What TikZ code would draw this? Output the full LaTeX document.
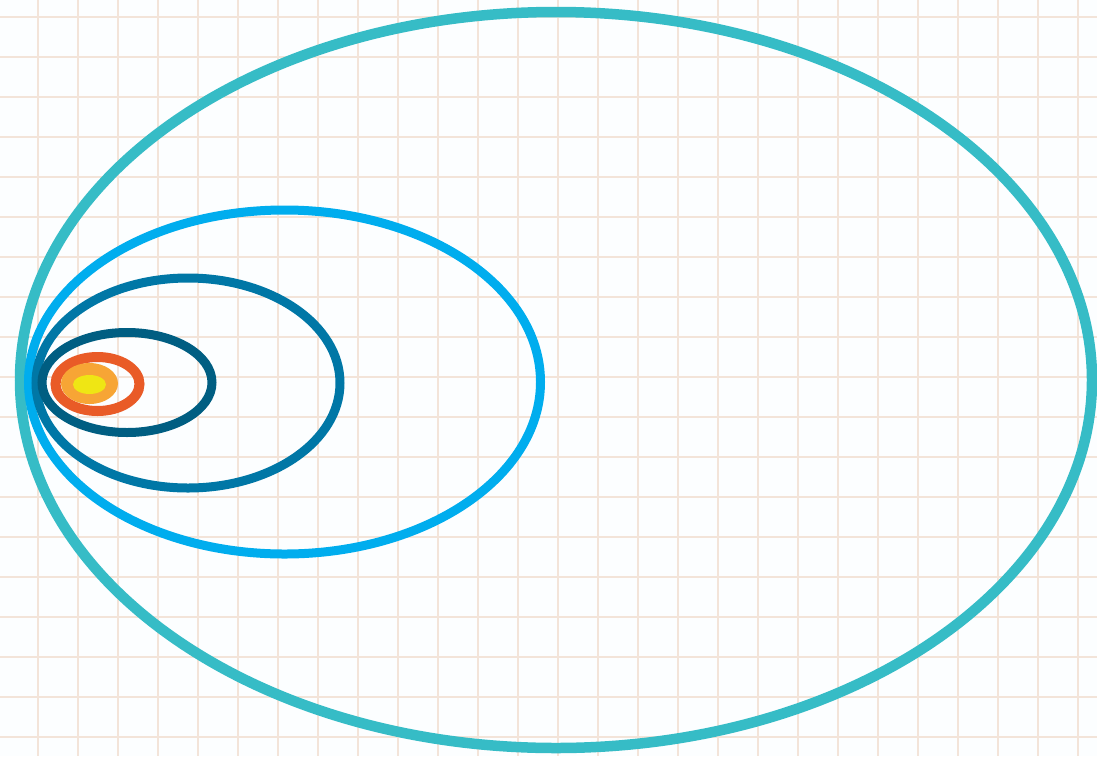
\documentclass[tikz,border=0pt]{standalone}
\begin{document}
\begin{tikzpicture}[x=1pt,y=-1pt,
  ring/.style={line width=#1},
  gridline/.style={draw=gridc,line width=1.2pt}]
\definecolor{gridc}{RGB}{243,228,217}
\definecolor{bgc}{RGB}{252,254,255}
\definecolor{teal1}{RGB}{54,188,198}
\definecolor{sky1}{RGB}{0,173,238}
\definecolor{mid1}{RGB}{0,119,166}
\definecolor{dark1}{RGB}{0,94,130}
\definecolor{orng1}{RGB}{233,91,39}
\definecolor{lorng}{RGB}{247,165,53}
\definecolor{yel1}{RGB}{239,230,20}
\useasboundingbox (0,0) rectangle (1097,756);
\fill[bgc] (0,0) rectangle (1097,756);
\foreach \i in {0,...,26} {\draw[gridline] ({38+40*\i},0) -- ({38+40*\i},756);}
\foreach \j in {0,...,18} {\draw[gridline] (0,{17+40*\j}) -- (1097,{17+40*\j});}
\draw[teal1,ring=10.5pt] (556,380) ellipse [x radius=536,y radius=368];
\draw[sky1,ring=9pt] (284.5,382) ellipse [x radius=256,y radius=172];
\draw[mid1,ring=9pt] (188,383) ellipse [x radius=152,y radius=105];
\draw[dark1,ring=9pt] (127,382.5) ellipse [x radius=85,y radius=50];
\draw[orng1,ring=10pt] (97.5,384) ellipse [x radius=42,y radius=27];
\fill[lorng] (89.5,383.5) ellipse [x radius=28.5,y radius=20.5];
\fill[yel1] (89.5,384.5) ellipse [x radius=16.5,y radius=9.5];
\end{tikzpicture}
\end{document}
